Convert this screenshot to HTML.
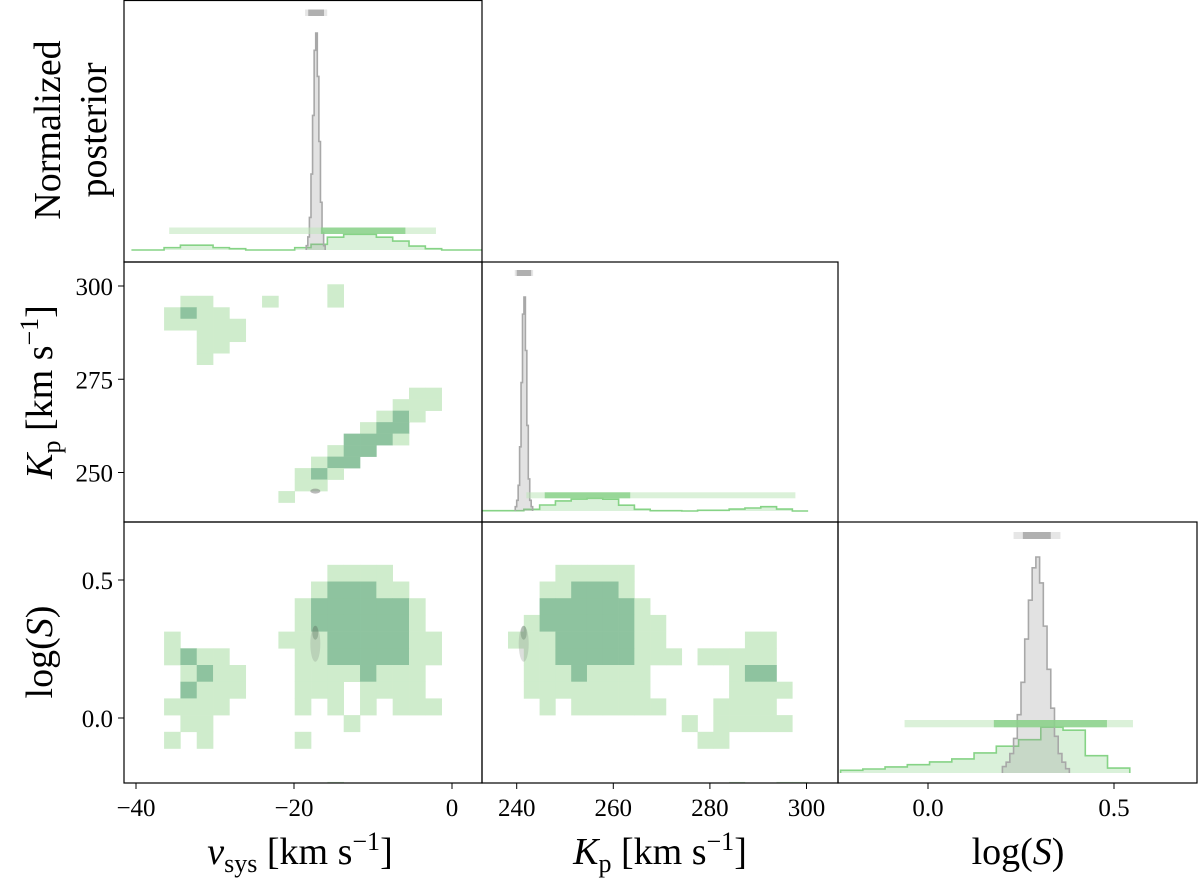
<!DOCTYPE html>
<html><head><meta charset="utf-8"><title>Corner plot</title>
<style>
html,body{margin:0;padding:0;background:#fff;}
svg{display:block;}
svg text{font-family:"Liberation Serif","DejaVu Serif","Noto Serif CJK SC",serif !important;}
</style></head>
<body>
<svg id="chart" width="1200" height="886" viewBox="0 0 1200 886" xmlns="http://www.w3.org/2000/svg">
<defs>
<clipPath id="c00"><rect x="124" y="0" width="358" height="262"/></clipPath>
<clipPath id="c10"><rect x="124" y="262" width="358" height="260"/></clipPath>
<clipPath id="c11"><rect x="482" y="262" width="356" height="260"/></clipPath>
<clipPath id="c20"><rect x="124" y="522" width="358" height="261"/></clipPath>
<clipPath id="c21"><rect x="482" y="522" width="356" height="261"/></clipPath>
<clipPath id="c22"><rect x="838" y="522" width="359" height="261"/></clipPath>
</defs>
<g id="marks"></g>
<g id="frames"></g>
<g id="labels" font-size="38" fill="#000">
  <text transform="translate(60,130) rotate(-90)" text-anchor="middle">Normalized</text>
  <text transform="translate(106,130) rotate(-90)" text-anchor="middle">posterior</text>
  <text transform="translate(52,392) rotate(-90)" text-anchor="middle"><tspan font-style="italic">K</tspan><tspan font-size="26" dy="8">p</tspan><tspan dy="-8"> [km s</tspan><tspan font-size="26" dy="-14">−1</tspan><tspan dy="14">]</tspan></text>
  <text transform="translate(52,652) rotate(-90)" text-anchor="middle">log(<tspan font-style="italic">S</tspan>)</text>
  <text x="300" y="864" text-anchor="middle"><tspan font-style="italic">v</tspan><tspan font-size="26" dy="8">sys</tspan><tspan dy="-8"> [km s</tspan><tspan font-size="26" dy="-14">−1</tspan><tspan dy="14">]</tspan></text>
  <text x="660" y="864" text-anchor="middle"><tspan font-style="italic">K</tspan><tspan font-size="26" dy="8">p</tspan><tspan dy="-8"> [km s</tspan><tspan font-size="26" dy="-14">−1</tspan><tspan dy="14">]</tspan></text>
  <text x="1018" y="864" text-anchor="middle">log(<tspan font-style="italic">S</tspan>)</text>
</g>
</svg>
<script>
// ---- data ----
const vsysTicks = [-40, -20, 0];
const kpTicksX = [240, 260, 280, 300];
const kpTicksY = [250, 275, 300];
const logsTicks = [0.0, 0.5];
const logsTickLabels = ["0.0", "0.5"];

const vsysBinStart = -40.58, vsysBinWidth = 2.067;
const kpRowTop = 300.46, kpRowStep = 3.08;
const logsRowTop = 0.555, logsRowStep = 0.0605;
const kpColStart = 238.2, kpColWidth = 3.27;
const gridVsysKp = [
"............L.........",
"...LL...L...L.........",
"..LDLL................",
"..LLLLL...............",
"....LLL...............",
"....LL................",
"....L.................",
"......................",
"......................",
".................LL...",
"................LLL...",
"...............LDL....",
"..............LDD.....",
".............DDDL.....",
"............LDD.......",
"...........LDD........",
"..........LDL.........",
"..........LL..........",
".........L............"];
const gridVsysLogs = [
"............LLLL......",
"...........LDDDLL.....",
"..........LDDDDDDL....",
"..........LDDDDDDL....",
"..L......LLLDDDDDLL...",
"..LDLL....LLDDDDDLL...",
"...LDLL...LLLLDLLL....",
"...DLLL...LLL.LLLL....",
"..LLLL....L.L.L.LLL...",
"...LL........L........",
"..L.L.....L...........",
"......................",
"......................",
"............L........."];
const gridKpLogs = [
"...LLLLL...........",
"..LLDDDL...........",
"..DDDDDDL..........",
".LDDDDDDLL.........",
"LLLDDDDDLL.....LL..",
".LLDDDDDLLL.LLLLL..",
".LLLDLLLL.....LDD..",
".LLLLLLLL.....LLLL.",
"..L.LLLLLL...LLLL..",
"...........L.LLLLL.",
"............LL.....",
"...................",
"...................",
"..............L..LL"];

const vsysGreen = [0,0,1.1,2.2,2.2,1.1,0.6,0,0,0,1.1,2.6,5.9,7.2,7.2,5.9,4.1,1.8,0.6,0,0,0];
const vsysGrayStart = -18.45, vsysGrayWidth = 0.2;
const vsysGray = [0.02,0.06,0.15,0.35,0.62,0.92,1.0,0.80,0.50,0.22,0.08,0.02];
const kpGreenStart = 228.4;
const kpGreen = [0.15,0.15,0.15,0.15,0.8,2.8,4.7,5.6,5.9,5.5,2.7,0.8,0.15,0.15,0,0.3,0.3,0.9,1.4,2.0,0.9,0];
const kpGrayStart = 239.7, kpGrayWidth = 0.3;
const kpGray = [0.02,0.05,0.12,0.3,0.6,0.92,1.0,0.75,0.4,0.15,0.05,0.02];
const logsGreenStart = -0.235, logsGreenWidth = 0.0598;
const logsGreen = [1.25,1.85,2.8,3.85,5.1,6.5,9.3,12.4,15.4,21.2,19.8,8.0,2.3];
const logsGrayStart = 0.20, logsGrayWidth = 0.01;
const logsGray = [0.03,0.05,0.09,0.16,0.27,0.42,0.62,0.80,0.95,1.0,0.88,0.68,0.48,0.30,0.17,0.09,0.05,0.02];

const vsysGreenOuter = [-35.8, -2.03], vsysGreenInner = [-16.6, -5.9], vsysGrayInt = [-18.2, -16.2];
const kpGreenOuter = [242.0, 297.7], kpGreenInner = [245.8, 263.5], kpGrayInt = [240.0, 243.0];
const logsGreenOuter = [-0.063, 0.551], logsGreenInner = [0.177, 0.481], logsGrayInt = [0.255, 0.330], logsGrayOuterInt = [0.230, 0.356];

const grayVsys = -17.3, grayKp = 245.0, grayLogs = 0.28, grayKpX = 241.45;

// ---- scales ----
const sxV = v => 136 + (v + 40) * 7.9;
const sxK = k => 516.7 + (k - 240) * 4.83;
const sxS = s => 928 + s * 372;
const syK = k => 286 + (300 - k) * 3.73;
const syS = s => 718 - s * 276;

const NS = "http://www.w3.org/2000/svg";
const marks = document.getElementById('marks');
const frames = document.getElementById('frames');
function el(tag, attrs, parent) {
  const e = document.createElementNS(NS, tag);
  for (const k in attrs) e.setAttribute(k, attrs[k]);
  parent.appendChild(e);
  return e;
}
const LIGHT = '#cfeccc', DARK = '#8ec39f';

function heat(grid, colStart, colW, sx, rowTop, rowStep, sy, clip, name) {
  const g = el('g', {'clip-path': 'url(#' + clip + ')'}, marks);
  
  
  grid.forEach((row, r) => {
    for (let c = 0; c < row.length; c++) {
      const ch = row[c];
      if (ch === '.') continue;
      const xa = sx(colStart + c * colW), xb = sx(colStart + (c + 1) * colW);
      const ya = sy(rowTop - r * rowStep), yb = sy(rowTop - (r + 1) * rowStep);
      const rect = el('rect', {x: Math.min(xa, xb), y: Math.min(ya, yb), width: Math.abs(xb - xa) + 0.3, height: Math.abs(yb - ya) + 0.3, fill: ch === 'D' ? DARK : LIGHT}, g);
      
      
    }
  });
}
heat(gridVsysKp, vsysBinStart, vsysBinWidth, sxV, kpRowTop, kpRowStep, syK, 'c10', 'heatmap-vsys-kp');
heat(gridVsysLogs, vsysBinStart, vsysBinWidth, sxV, logsRowTop, logsRowStep, syS, 'c20', 'heatmap-vsys-logs');
heat(gridKpLogs, kpColStart, kpColWidth, sxK, logsRowTop, logsRowStep, syS, 'c21', 'heatmap-kp-logs');

function cloud(cx, cy, clip, name) {
  const g = el('g', {'clip-path': 'url(#' + clip + ')'}, marks);
  
  
  el('ellipse', {cx: cx, cy: cy + 3, rx: 5, ry: 18, fill: 'rgba(140,150,140,0.3)'}, g);
  el('ellipse', {cx: cx, cy: cy - 8, rx: 3, ry: 7, fill: 'rgba(90,120,95,0.35)'}, g);
}
{
  const g = el('g', {'clip-path': 'url(#c10)'}, marks);
  
  
  el('ellipse', {cx: sxV(grayVsys), cy: syK(grayKp), rx: 5, ry: 2.5, fill: 'rgba(120,120,120,0.5)'}, g);
}
cloud(sxV(grayVsys), syS(grayLogs), 'c20', 'gray-cloud-vsys-logs');
cloud(sxK(grayKpX), syS(grayLogs), 'c21', 'gray-cloud-kp-logs');

function hist(vals, start, w, sx, base, pxPerUnit, stroke, fill, clip, name) {
  let d = 'M' + sx(start) + ',' + base;
  vals.forEach((v, i) => {
    const y = base - v * pxPerUnit;
    d += ' L' + sx(start + i * w) + ',' + y + ' L' + sx(start + (i + 1) * w) + ',' + y;
  });
  d += ' L' + sx(start + vals.length * w) + ',' + base;
  const p = el('path', {d: d, fill: fill, stroke: stroke, 'stroke-width': 1.6, 'clip-path': 'url(#' + clip + ')'}, marks);
  
  
}
function bar(iv, sx, y, h, color, clip, name) {
  const r = el('rect', {x: sx(iv[0]), y: y, width: sx(iv[1]) - sx(iv[0]), height: h, fill: color, 'clip-path': 'url(#' + clip + ')'}, marks);
  
  
}
const GREENLINE = '#86d386', GREENFILL = 'rgba(150,215,150,0.35)';
const GRAYLINE = '#a8a8a8', GRAYFILL = 'rgba(150,150,150,0.28)';

hist(vsysGreen, vsysBinStart, vsysBinWidth, sxV, 250, 2.17, GREENLINE, GREENFILL, 'c00', 'hist-vsys-green');
hist(vsysGray.map(v => v * 100), vsysGrayStart, vsysGrayWidth, sxV, 250, 2.17, GRAYLINE, GRAYFILL, 'c00', 'hist-vsys-gray');
bar(vsysGreenOuter, sxV, 227.5, 6.5, 'rgba(190,230,185,0.55)', 'c00', 'interval-vsys-green-outer');
bar(vsysGreenInner, sxV, 227.5, 6.5, 'rgba(130,205,130,0.75)', 'c00', 'interval-vsys-green-inner');
bar([vsysGrayInt[0] - 0.4, vsysGrayInt[1] + 0.4], sxV, 9.5, 6.5, '#e6e6e6', 'c00', 'interval-vsys-gray-outer');
bar(vsysGrayInt, sxV, 9.5, 6.5, '#b0b0b0', 'c00', 'interval-vsys-gray');

hist(kpGreen, kpGreenStart, kpColWidth, sxK, 511, 2.14, GREENLINE, GREENFILL, 'c11', 'hist-kp-green');
hist(kpGray.map(v => v * 100), kpGrayStart, kpGrayWidth, sxK, 511, 2.14, GRAYLINE, GRAYFILL, 'c11', 'hist-kp-gray');
bar(kpGreenOuter, sxK, 492.3, 6, 'rgba(190,230,185,0.55)', 'c11', 'interval-kp-green-outer');
bar(kpGreenInner, sxK, 492.3, 6, 'rgba(130,205,130,0.75)', 'c11', 'interval-kp-green-inner');
bar([kpGrayInt[0] - 0.4, kpGrayInt[1] + 0.4], sxK, 270, 6, '#e6e6e6', 'c11', 'interval-kp-gray-outer');
bar(kpGrayInt, sxK, 270, 6, '#b0b0b0', 'c11', 'interval-kp-gray');

hist(logsGreen, logsGreenStart, logsGreenWidth, sxS, 773, 2.16, GREENLINE, GREENFILL, 'c22', 'hist-logs-green');
hist(logsGray.map(v => v * 100), logsGrayStart, logsGrayWidth, sxS, 773, 2.16, GRAYLINE, GRAYFILL, 'c22', 'hist-logs-gray');
bar(logsGreenOuter, sxS, 720, 7.3, 'rgba(190,230,185,0.55)', 'c22', 'interval-logs-green-outer');
bar(logsGreenInner, sxS, 720, 7.3, 'rgba(130,205,130,0.75)', 'c22', 'interval-logs-green-inner');
bar(logsGrayOuterInt, sxS, 532, 7, '#e6e6e6', 'c22', 'interval-logs-gray-outer');
bar(logsGrayInt, sxS, 532, 7, '#b0b0b0', 'c22', 'interval-logs-gray');

const panels = [
  ['panel-vsys-hist', 124, 0.5, 482, 262],
  ['panel-vsys-kp', 124, 262, 482, 522],
  ['panel-kp-hist', 482, 262, 838, 522],
  ['panel-vsys-logs', 124, 522, 482, 783],
  ['panel-kp-logs', 482, 522, 838, 783],
  ['panel-logs-hist', 838, 522, 1197, 783]];
panels.forEach(p => {
  const r = el('rect', {x: p[1], y: p[2], width: p[3] - p[1], height: p[4] - p[2], fill: 'none', stroke: '#000', 'stroke-width': 1.2}, frames);
  
  
});

function xTicks(vals, labels, sx, name) {
  vals.forEach((v, i) => {
    const x = sx(v);
    el('line', {x1: x, y1: 783, x2: x, y2: 789, stroke: '#000', 'stroke-width': 1}, frames);
    const t = el('text', {x: x, y: 816, 'text-anchor': 'middle', 'font-size': 25}, frames);
    t.textContent = labels[i];
    
    
  });
}
function yTicks(vals, labels, sy, name) {
  vals.forEach((v, i) => {
    const y = sy(v);
    el('line', {x1: 118, y1: y, x2: 124, y2: y, stroke: '#000', 'stroke-width': 1}, frames);
    const t = el('text', {x: 113, y: y + 9, 'text-anchor': 'end', 'font-size': 25}, frames);
    t.textContent = labels[i];
    
    
  });
}
xTicks(vsysTicks, vsysTicks.map(v => v < 0 ? '−' + Math.abs(v) : String(v)), sxV, 'x-tick-label-vsys');
xTicks(kpTicksX, kpTicksX.map(String), sxK, 'x-tick-label-kp');
xTicks(logsTicks, logsTickLabels, sxS, 'x-tick-label-logs');
yTicks(kpTicksY, kpTicksY.map(String), syK, 'y-tick-label-kp');
yTicks(logsTicks, logsTickLabels, syS, 'y-tick-label-logs');
</script>
</body></html>
